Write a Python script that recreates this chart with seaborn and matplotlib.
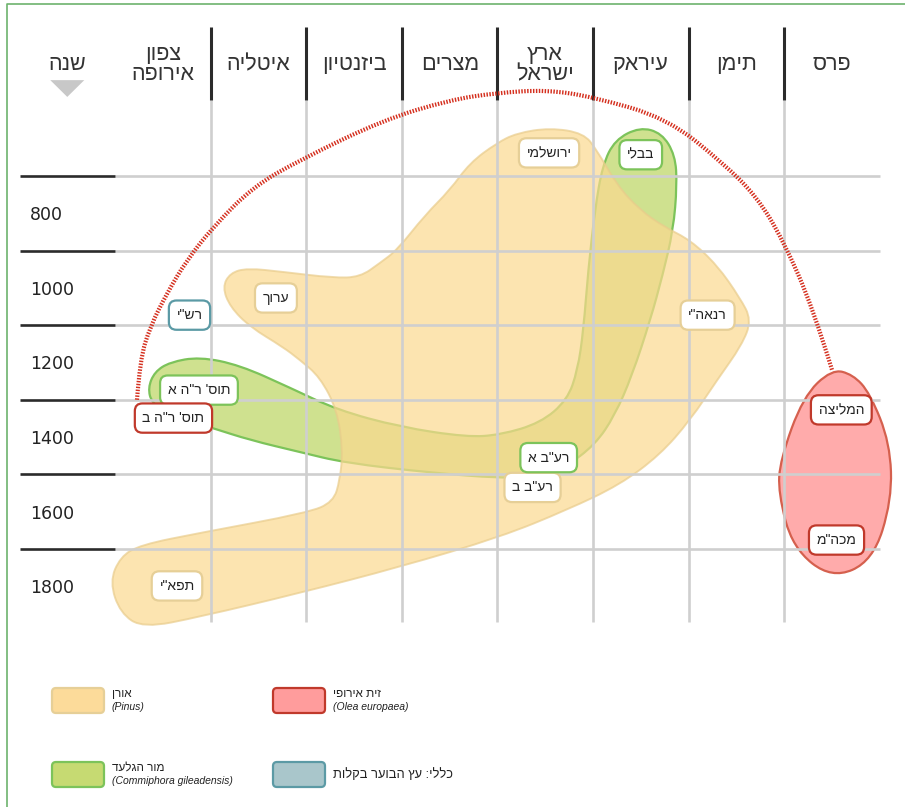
"""
Timeline map of Hebrew commentaries by region and century,
with the tree species each one names (Pinus, Commiphora, Olea).
"""

import numpy as np
import matplotlib.pyplot as plt
import seaborn as sns
from matplotlib.path import Path
from matplotlib.patches import PathPatch, FancyBboxPatch, Polygon

# ---- data -------------------------------------------------------------
regions = ["צפון\nאירופה", "איטליה", "ביזנטיון", "מצרים", "ארץ\nישראל",
           "עיראק", "תימן", "פרס"]
years = [800, 1000, 1200, 1400, 1600, 1800]
year_title = "שנה"

# outlines: x = region column, y = year
pinus_x = [3.70, 4.05, 4.40, 4.54, 4.75, 4.99, 5.25, 5.52, 5.80, 6.04, 6.16,
           6.06, 5.80, 5.52, 5.20, 4.78, 4.23, 3.53, 2.48, 1.43, 0.38, -0.21,
           -0.45, -0.56, -0.45, -0.24, 0.38, 1.51, 1.78, 1.85, 1.88, 1.82,
           1.64, 1.43, 1.25, 0.91, 0.70, 0.62, 0.70, 0.88, 1.25, 1.78, 2.06,
           2.27, 2.45, 2.74, 3.00, 3.21, 3.49]
pinus_y = [585, 571, 585, 630, 724, 791, 837, 872, 939, 1027, 1086,
           1153, 1247, 1354, 1448, 1528, 1595, 1668, 1748, 1818, 1882, 1912,
           1872, 1788, 1721, 1689, 1657, 1603, 1574, 1515, 1435, 1327,
           1239, 1193, 1158, 1105, 1051, 998, 960, 947, 957, 973, 971,
           933, 898, 805, 738, 665, 612]

commiphora_x = [4.99, 5.22, 5.36, 5.38, 5.34, 5.23, 5.10, 4.91, 4.73, 4.52,
                4.21, 3.84, 3.53, 2.82, 1.90, 1.43, 0.91, 0.52, 0.07, -0.12,
                -0.16, -0.09, 0.07, 0.38, 0.80, 1.33, 1.82, 2.48, 3.18, 3.53,
                3.95, 4.23, 4.34, 4.40, 4.45, 4.52, 4.60, 4.73]
commiphora_y = [569, 585, 644, 724, 845, 965, 1086, 1234, 1341, 1421,
                1480, 1507, 1510, 1496, 1469, 1440, 1408, 1376, 1341, 1309,
                1268, 1225, 1199, 1185, 1207, 1268, 1327, 1373, 1400, 1394,
                1362, 1301, 1220, 1113, 952, 791, 671, 603]

olea_x = [7.00, 7.22, 7.40, 7.61, 7.63, 7.43, 7.00, 6.59, 6.44, 6.46, 6.70]
olea_y = [1218, 1232, 1282, 1416, 1569, 1732, 1780, 1697, 1550, 1461, 1292]

# dashed link between תוס' ר"ה ב and המליצה
link_x = [-0.275, -0.243, -0.139, 0.039, 0.249, 0.521, 0.940, 1.432, 2.301,
          3.003, 3.495, 4.018, 4.500, 5.275, 5.861, 6.217, 6.490, 6.804, 7.003]
link_y = [1300, 1193, 1105, 1014, 925, 837, 729, 657, 550,
          496, 477, 469, 488, 545, 665, 756, 872, 1054, 1220]

label_text = ["ירושלמי", "בבלי", "רנאה\"י", "ערוך", "רש\"י", "תוס' ר\"ה א",
              "תוס' ר\"ה ב", "רע\"ב ב", "רע\"ב א", "תפא\"י", "המליצה", "מכה\"מ"]
label_col = [4.04, 5.00, 5.70, 1.18, 0.275, 0.374, 0.107, 3.867, 4.036, 0.144,
             7.10, 7.05]
label_year = [638, 643, 1073, 1027, 1073, 1274, 1349, 1535, 1455, 1799,
              1327, 1676]
label_kind = ["pinus", "commiphora", "pinus", "pinus", "general", "commiphora",
              "olea", "pinus", "commiphora", "pinus", "olea", "olea"]

legend_kind = ["pinus", "olea", "commiphora", "general"]
legend_name = ["אורן", "זית אירופי", "מור הגלעד", "כללי: עץ הבוער בקלות"]
legend_latin = ["(Pinus)", "(Olea europaea)", "(Commiphora gileadensis)", None]

# ---- styles -----------------------------------------------------------
BORDER = {"pinus": "#e6cf97", "commiphora": "#7cc35a",
          "olea": "#c0392b", "general": "#5b9aa5"}
SWATCH = {"pinus": "#fcdb9a", "commiphora": "#c6da72",
          "olea": "#ff9c9c", "general": "#a9c6cb"}
GRID = "#cfcfcf"
INK = "#2b2b2b"
HEADER_Y = 402
HEADER_TOP, HEADER_BOTTOM = 300, 496
GRID_BOTTOM = 1895


def heb(s):
    # matplotlib lays text out left to right, so flip each line for RTL
    return "\n".join(line[::-1] for line in s.split("\n"))


def closed_path(xs, ys):
    pts = np.column_stack([xs, ys])
    mids = (pts + np.roll(pts, -1, axis=0)) / 2
    verts, codes = [mids[-1]], [Path.MOVETO]
    for p, m in zip(pts, mids):
        verts += [p, m]
        codes += [Path.CURVE3, Path.CURVE3]
    return Path(verts, codes)


def open_path(xs, ys):
    pts = np.column_stack([xs, ys])
    n = len(pts)
    verts, codes = [pts[0]], [Path.MOVETO]
    for i in range(1, n - 1):
        end = pts[i + 1] if i == n - 2 else (pts[i] + pts[i + 1]) / 2
        verts += [pts[i], end]
        codes += [Path.CURVE3, Path.CURVE3]
    return Path(verts, codes)


sns.set_theme(style="white")
plt.rcParams["font.family"] = ["Liberation Sans", "DejaVu Sans"]

fig = plt.figure(figsize=(9.05, 8.07), dpi=100)
ax = fig.add_axes([0, 0, 1, 1])
ax.set_xlim(-1.7094, 7.767)
ax.set_ylim(2391.7, 228.15)
ax.axis("off")

n_cols = len(regions)
col_edges = np.arange(n_cols + 1) - 0.5
row_edges = [y - 100 for y in years]

# shapes
ax.add_patch(PathPatch(closed_path(commiphora_x, commiphora_y),
                       facecolor="#cfe18f", edgecolor="#7cc35a", lw=1.6, zorder=1))
ax.add_patch(PathPatch(closed_path(pinus_x, pinus_y),
                       facecolor="#fbd98f", alpha=0.7, edgecolor="#e9cc8c",
                       lw=1.4, zorder=2))
ax.add_patch(PathPatch(closed_path(olea_x, olea_y),
                       facecolor="#ffabab", edgecolor="#d5604e", lw=1.6, zorder=2))

# grid
ax.hlines(row_edges, -0.5, n_cols - 0.5, color=GRID, lw=1.9, zorder=3)
ax.hlines(row_edges, -1.495, -0.5, color=INK, lw=1.9, zorder=3)
ax.vlines(col_edges[1:-1], HEADER_BOTTOM, GRID_BOTTOM, color=GRID, lw=1.9, zorder=3)
ax.vlines(col_edges[1:-1], HEADER_TOP, HEADER_BOTTOM, color=INK, lw=2.2, zorder=3)

# headers
for i, name in enumerate(regions):
    ax.text(i, HEADER_Y, heb(name), ha="center", va="center", fontsize=15.5,
            color="#333333", linespacing=0.95, zorder=6)
ax.text(-1.005, HEADER_Y, heb(year_title), ha="center", va="center",
        fontsize=15.5, color="#333333", zorder=6)
ax.add_patch(Polygon([(-1.183, 443), (-0.827, 443), (-1.005, 488)],
                     closed=True, color="#c8c8c8", lw=0, zorder=6))

for y in years:
    ax.text(-1.395, y + 5, str(y), ha="left", va="center", fontsize=12.5,
            color="#222222", family="DejaVu Sans", zorder=6)

# link between the two olive mentions
ax.add_patch(PathPatch(open_path(link_x, link_y), fill=False,
                       edgecolor="#d5301f", lw=3.0, linestyle=(0, (0.35, 0.35)),
                       zorder=4))

# commentary labels
for t, c, y, k in zip(label_text, label_col, label_year, label_kind):
    ax.text(c, y, heb(t), ha="center", va="center", fontsize=10,
            color="#222222", zorder=7,
            bbox=dict(boxstyle="round,pad=0.55", facecolor="white",
                      edgecolor=BORDER[k], lw=1.6))

# legend + frame in pixel space
ov = fig.add_axes([0, 0, 1, 1])
ov.set_xlim(0, 905)
ov.set_ylim(807, 0)
ov.axis("off")
ov.patch.set_alpha(0)
ov.plot([7, 7, 905], [807, 4, 4], color="#6db36d", lw=1.2)

swatch_pos = [(52, 688), (273, 688), (52, 762), (273, 762)]
for (x0, y0), k, name, latin in zip(swatch_pos, legend_kind, legend_name,
                                    legend_latin):
    ov.add_patch(FancyBboxPatch((x0 + 4, y0 + 4), 44, 17,
                                boxstyle="round,pad=4", facecolor=SWATCH[k],
                                edgecolor=BORDER[k], lw=1.6))
    tx = x0 + 60
    if latin:
        ov.text(tx, y0 + 6, heb(name), ha="left", va="center", fontsize=8.5,
                color="#222222")
        ov.text(tx, y0 + 19, latin, ha="left", va="center", fontsize=7.5,
                style="italic", color="#222222")
    else:
        ov.text(tx, y0 + 13, heb(name), ha="left", va="center", fontsize=9.3,
                color="#222222")

fig.savefig("out.png", dpi=100)
plt.close(fig)
